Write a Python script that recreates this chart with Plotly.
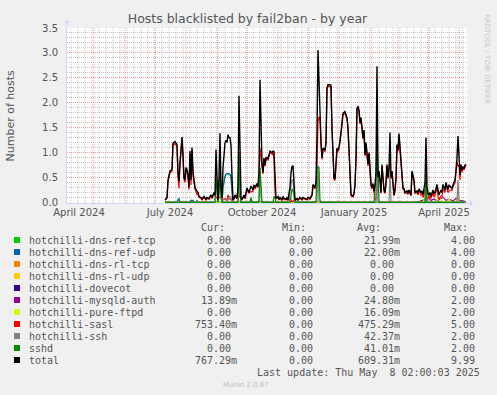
import plotly.graph_objects as go
import pandas as pd

# ---------------- data ----------------
main_dates = [
    "2024-07-11", "2024-07-13", "2024-07-14", "2024-07-16", "2024-07-18", "2024-07-19", "2024-07-21", "2024-07-23",
    "2024-07-24", "2024-07-25", "2024-07-26", "2024-07-28", "2024-07-29", "2024-07-30", "2024-07-31",
    "2024-08-01", "2024-08-02", "2024-08-03", "2024-08-04", "2024-08-05", "2024-08-06", "2024-08-07", "2024-08-08",
    "2024-08-09", "2024-08-10", "2024-08-12", "2024-08-13", "2024-08-14", "2024-08-16", "2024-08-17", "2024-08-19",
    "2024-08-21", "2024-08-22", "2024-08-24", "2024-08-26", "2024-08-27", "2024-08-29", "2024-08-30", "2024-08-31",
    "2024-09-01", "2024-09-02", "2024-09-03", "2024-09-04", "2024-09-05", "2024-09-06", "2024-09-07", "2024-09-08",
    "2024-09-09", "2024-09-10", "2024-09-11", "2024-09-12", "2024-09-13", "2024-09-14", "2024-09-15", "2024-09-16",
    "2024-09-17", "2024-09-18", "2024-09-19", "2024-09-21", "2024-09-22", "2024-09-23", "2024-09-24", "2024-09-25",
    "2024-09-26", "2024-09-28", "2024-09-29", "2024-09-30",
    "2024-10-01", "2024-10-03", "2024-10-04", "2024-10-05", "2024-10-07", "2024-10-08", "2024-10-09", "2024-10-11",
    "2024-10-12", "2024-10-13", "2024-10-14", "2024-10-15", "2024-10-16", "2024-10-17", "2024-10-18", "2024-10-19",
    "2024-10-20", "2024-10-22", "2024-10-23", "2024-10-24", "2024-10-26", "2024-10-27", "2024-10-28", "2024-10-29",
    "2024-10-30",
    "2024-11-01", "2024-11-02", "2024-11-03", "2024-11-05", "2024-11-06", "2024-11-07", "2024-11-09", "2024-11-10",
    "2024-11-11", "2024-11-13", "2024-11-14", "2024-11-15", "2024-11-16", "2024-11-17", "2024-11-18", "2024-11-20",
    "2024-11-21", "2024-11-23", "2024-11-25", "2024-11-26", "2024-11-28", "2024-11-30",
    "2024-12-01", "2024-12-03", "2024-12-05", "2024-12-06", "2024-12-08", "2024-12-09", "2024-12-10", "2024-12-11",
    "2024-12-12", "2024-12-13", "2024-12-14", "2024-12-15", "2024-12-16", "2024-12-18", "2024-12-19", "2024-12-20",
    "2024-12-21", "2024-12-23", "2024-12-24", "2024-12-25", "2024-12-26", "2024-12-27", "2024-12-28", "2024-12-29",
    "2024-12-30", "2024-12-31",
    "2025-01-01", "2025-01-03", "2025-01-04", "2025-01-05", "2025-01-07", "2025-01-08", "2025-01-09", "2025-01-10",
    "2025-01-11", "2025-01-12", "2025-01-13", "2025-01-15", "2025-01-16", "2025-01-17", "2025-01-18", "2025-01-19",
    "2025-01-20", "2025-01-21", "2025-01-22", "2025-01-23", "2025-01-24", "2025-01-25", "2025-01-26", "2025-01-27",
    "2025-01-28", "2025-01-29", "2025-01-30", "2025-01-31",
    "2025-02-01", "2025-02-02", "2025-02-03", "2025-02-04", "2025-02-05", "2025-02-06", "2025-02-07", "2025-02-08",
    "2025-02-09", "2025-02-10", "2025-02-11", "2025-02-12", "2025-02-13", "2025-02-14", "2025-02-15", "2025-02-16",
    "2025-02-17", "2025-02-18", "2025-02-19", "2025-02-20", "2025-02-21", "2025-02-22", "2025-02-23", "2025-02-24",
    "2025-02-25", "2025-02-26", "2025-02-27", "2025-02-28",
    "2025-03-01", "2025-03-02", "2025-03-03", "2025-03-04", "2025-03-05", "2025-03-06", "2025-03-07", "2025-03-08",
    "2025-03-10", "2025-03-11", "2025-03-12", "2025-03-14", "2025-03-15", "2025-03-16", "2025-03-17", "2025-03-18",
    "2025-03-20", "2025-03-21", "2025-03-22", "2025-03-24", "2025-03-25", "2025-03-26", "2025-03-27", "2025-03-28",
    "2025-03-29", "2025-03-30", "2025-03-31",
    "2025-04-01", "2025-04-02", "2025-04-03", "2025-04-05", "2025-04-06", "2025-04-07", "2025-04-09", "2025-04-10",
    "2025-04-11", "2025-04-13", "2025-04-14", "2025-04-15", "2025-04-17", "2025-04-18", "2025-04-19", "2025-04-20",
    "2025-04-21", "2025-04-23", "2025-04-24", "2025-04-25", "2025-04-27", "2025-04-28", "2025-04-29", "2025-04-30",
    "2025-05-01", "2025-05-02", "2025-05-03", "2025-05-04", "2025-05-05", "2025-05-06", "2025-05-07", "2025-05-08",
]

total = [
    0.05, 0.10, 0.45, 0.63, 0.66, 1.19, 1.22, 1.16,
    0.60, 0.42, 0.80, 1.31, 0.95, 0.50, 0.45,
    0.70, 0.66, 0.55, 0.30, 1.03, 0.45, 1.10, 0.62,
    0.45, 0.30, 0.22, 0.20, 0.12, 0.10, 0.07, 0.12,
    0.06, 0.10, 0.08, 0.15, 0.10, 0.20, 0.15, 1.06,
    0.50, 0.05, 0.50, 1.39, 0.30, 0.10, 0.70, 1.03,
    1.19, 1.25, 1.20, 1.36, 1.30, 1.30, 1.15, 0.50,
    0.05, 0.08, 0.15, 0.08, 0.30, 2.14, 0.60, 0.10,
    0.06, 0.15, 0.08, 0.20,
    0.29, 0.20, 0.25, 0.33, 0.25, 0.35, 0.30, 0.38,
    0.32, 0.60, 2.46, 1.20, 0.76, 0.60, 0.89, 0.75,
    0.90, 0.88, 0.95, 1.03, 1.00, 1.03, 1.02, 0.30,
    0.08,
    0.12, 0.06, 0.10, 0.05, 0.12, 0.08, 0.06, 0.10,
    0.05, 0.30, 0.60, 0.72, 0.73, 0.40, 0.05, 0.08,
    0.05, 0.10, 0.06, 0.10, 0.08, 0.06,
    0.10, 0.08, 0.15, 0.36, 0.30, 0.40, 1.40, 3.06,
    2.45, 1.75, 1.20, 0.89, 1.09, 1.05, 1.20, 2.30,
    2.36, 2.36, 2.35, 1.50, 0.89, 0.49, 0.47, 0.85,
    1.09, 1.05,
    1.10, 1.40, 1.65, 1.79, 1.82, 1.75, 1.70, 1.50,
    1.00, 0.40, 0.15, 0.13, 0.18, 0.35, 0.90, 1.89,
    1.93, 1.85, 1.60, 1.70, 1.45, 1.30, 1.45, 0.96,
    1.20, 0.95, 0.76, 1.00,
    0.63, 0.36, 0.30, 0.38, 0.22, 0.35, 0.60, 2.73,
    0.50, 0.63, 0.45, 0.20, 0.76, 0.55, 0.25, 0.20,
    0.40, 0.76, 0.50, 0.70, 1.40, 0.50, 0.63, 0.38,
    0.15, 0.25, 0.50, 1.16,
    1.05, 1.38, 1.10, 0.95, 0.60, 0.29, 0.28, 0.20,
    0.23, 0.18, 0.25, 0.15, 0.63, 0.50, 0.45, 0.20,
    0.23, 0.18, 0.27, 0.20, 0.22, 0.15, 0.25, 0.40,
    1.30, 0.30, 0.20,
    0.15, 0.20, 0.12, 0.25, 0.18, 0.20, 0.36, 0.25,
    0.15, 0.25, 0.20, 0.36, 0.25, 0.40, 0.30, 0.25,
    0.35, 0.30, 0.28, 0.35, 0.45, 0.65, 0.89, 1.33,
    0.85, 0.55, 0.76, 0.65, 0.72, 0.68, 0.75, 0.7673,
]

sasl = [
    0.04, 0.08, 0.42, 0.60, 0.62, 1.15, 1.18, 1.12,
    0.50, 0.28, 0.77, 1.27, 0.92, 0.46, 0.40,
    0.66, 0.62, 0.50, 0.26, 0.98, 0.35, 1.05, 0.52,
    0.42, 0.27, 0.16, 0.17, 0.10, 0.08, 0.05, 0.10,
    0.05, 0.08, 0.06, 0.13, 0.08, 0.18, 0.13, 0.10,
    0.10, 0.05, 0.10, 0.10, 0.10, 0.10, 0.05, 0.06,
    0.08, 0.06, 0.04, 0.15, 0.08, 0.06, 0.05, 0.05,
    0.04, 0.07, 0.13, 0.07, 0.28, 0.14, 0.10, 0.09,
    0.05, 0.13, 0.07, 0.18,
    0.26, 0.18, 0.22, 0.21, 0.22, 0.32, 0.27, 0.35,
    0.29, 0.55, 1.09, 0.90, 0.73, 0.57, 0.86, 0.72,
    0.87, 0.85, 0.92, 1.00, 0.97, 1.00, 0.88, 0.20,
    0.07,
    0.10, 0.05, 0.08, 0.04, 0.10, 0.06, 0.05, 0.08,
    0.04, 0.10, 0.05, 0.01, 0.02, 0.05, 0.04, 0.06,
    0.04, 0.08, 0.05, 0.08, 0.06, 0.05,
    0.08, 0.06, 0.13, 0.33, 0.27, 0.37, 0.65, 1.60,
    1.72, 1.68, 1.17, 0.86, 1.06, 1.02, 1.17, 2.27,
    2.33, 2.33, 2.32, 1.47, 0.86, 0.46, 0.44, 0.82,
    1.06, 1.02,
    1.07, 1.37, 1.62, 1.76, 1.79, 1.72, 1.67, 1.47,
    0.97, 0.37, 0.13, 0.11, 0.16, 0.32, 0.87, 1.86,
    1.90, 1.82, 1.57, 1.67, 1.42, 1.27, 1.42, 0.93,
    1.17, 0.92, 0.73, 0.97,
    0.60, 0.33, 0.27, 0.35, 0.20, 0.05, 0.05, 0.45,
    0.20, 0.60, 0.42, 0.18, 0.73, 0.52, 0.22, 0.18,
    0.37, 0.73, 0.47, 0.67, 0.80, 0.47, 0.60, 0.35,
    0.13, 0.22, 0.47, 1.13,
    1.02, 1.35, 1.07, 0.92, 0.57, 0.26, 0.25, 0.18,
    0.20, 0.16, 0.22, 0.13, 0.60, 0.47, 0.42, 0.18,
    0.20, 0.15, 0.23, 0.15, 0.17, 0.10, 0.15, 0.25,
    0.20, 0.22, 0.13,
    0.07, 0.14, 0.08, 0.19, 0.11, 0.14, 0.30, 0.12,
    0.06, 0.13, 0.12, 0.26, 0.20, 0.36, 0.25, 0.20,
    0.23, 0.25, 0.24, 0.32, 0.39, 0.57, 0.82, 0.72,
    0.75, 0.45, 0.71, 0.61, 0.69, 0.65, 0.72, 0.7534,
]

dns_ref_dates = [
    "2024-07-11", "2024-07-23", "2024-07-24", "2024-07-25", "2024-07-26", "2024-08-05", "2024-08-06", "2024-08-07",
    "2024-08-08", "2024-08-09", "2024-08-11", "2024-08-12", "2024-08-13", "2024-09-06", "2024-09-07", "2024-09-08",
    "2024-09-09", "2024-09-10", "2024-09-11", "2024-09-12", "2024-09-13", "2024-09-14", "2024-09-15", "2024-09-16",
    "2024-09-17", "2025-05-08",
]
dns_ref_tcp = [0, 0, 0.05, 0.07, 0, 0, 0.05, 0, 0.05, 0, 0, 0.03, 0, 0, 0.30, 0.45,
               0.52, 0.56, 0.57, 0.58, 0.57, 0.56, 0.50, 0.20, 0, 0]
dns_ref_udp = [0, 0, 0.05, 0.07, 0, 0, 0.05, 0, 0.05, 0, 0, 0.03, 0, 0, 0.30, 0.45,
               0.52, 0.56, 0.57, 0.58, 0.57, 0.56, 0.50, 0.20, 0, 0]

ssh_dates = [
    "2024-07-11", "2024-08-30", "2024-08-31", "2024-09-01", "2024-09-02", "2024-09-03", "2024-09-04", "2024-09-05",
    "2024-09-06", "2024-09-07", "2024-09-08", "2024-09-09", "2024-09-10", "2024-09-11", "2024-09-12", "2024-09-13",
    "2024-09-14", "2024-09-15", "2024-09-16", "2024-09-17", "2024-09-22", "2024-09-23", "2024-09-24", "2024-09-25",
    "2024-10-12", "2024-10-13", "2024-10-14", "2024-10-15", "2024-10-16", "2024-11-12", "2024-11-13", "2024-11-14",
    "2024-11-15", "2024-11-16", "2024-11-17", "2024-11-18", "2024-12-09", "2024-12-10", "2024-12-11", "2024-12-12",
    "2024-12-13", "2025-02-07", "2025-02-08", "2025-02-09", "2025-02-20", "2025-02-21", "2025-02-22", "2025-03-28",
    "2025-03-29", "2025-03-30", "2025-04-29", "2025-04-30", "2025-05-01", "2025-05-08",
]
ssh = [
    0, 0, 0.50, 0.20, 0, 0.20, 0.70, 0.10,
    0, 0.05, 0.07, 0.07, 0.07, 0.02, 0.05, 0.08,
    0.12, 0.10, 0.05, 0, 0, 1.00, 0.30, 0,
    0, 0.05, 0.67, 0.10, 0, 0, 0.20, 0.40,
    0.45, 0.45, 0.25, 0, 0, 0.05, 0.75, 0.03,
    0, 0, 1.04, 0, 0, 0.60, 0, 0,
    0.60, 0, 0, 0.45, 0, 0,
]

sshd_dates = [
    "2024-07-11", "2024-08-30", "2024-08-31", "2024-09-01", "2024-09-02", "2024-09-03", "2024-09-04", "2024-09-05",
    "2024-09-06", "2024-09-22", "2024-09-23", "2024-09-24", "2024-09-25", "2024-10-04", "2024-10-05", "2024-10-06",
    "2024-10-13", "2024-10-14", "2024-10-15", "2024-10-16", "2024-10-27", "2024-10-28", "2024-10-29", "2024-10-30",
    "2024-11-13", "2024-11-14", "2024-11-15", "2024-11-16", "2024-11-17", "2024-11-18", "2024-12-09", "2024-12-10",
    "2024-12-11", "2024-12-12", "2024-12-13", "2024-12-14", "2025-02-05", "2025-02-06", "2025-02-07", "2025-02-08",
    "2025-02-09", "2025-02-10", "2025-03-28", "2025-03-29", "2025-03-30", "2025-05-08",
]
sshd = [
    0, 0, 0.46, 0.20, 0, 0.20, 0.59, 0.10,
    0, 0, 1.00, 0.20, 0, 0, 0.10, 0,
    0, 0.70, 0.20, 0, 0, 0.12, 0.10, 0,
    0, 0.15, 0.26, 0.26, 0.10, 0, 0, 0.70,
    0.71, 0.70, 0.05, 0, 0, 0.30, 0.55, 1.24,
    0.30, 0, 0, 0.45, 0, 0,
]

mysqld_dates = [
    "2024-07-11", "2025-03-20", "2025-03-24", "2025-03-27", "2025-03-28", "2025-04-01", "2025-04-03", "2025-04-06",
    "2025-04-09", "2025-04-12", "2025-04-15", "2025-04-18", "2025-04-21", "2025-04-25", "2025-04-28", "2025-05-02",
    "2025-05-05", "2025-05-08",
]
mysqld_auth = [0, 0, 0.03, 0.05, 0.05, 0.08, 0.04, 0.07, 0.03, 0.06, 0.10, 0.04, 0.06, 0.03, 0.08, 0.04, 0.03, 0.0139]

ftpd_dates = [
    "2024-07-11", "2025-03-26", "2025-03-28", "2025-03-29", "2025-03-31", "2025-04-08", "2025-04-10", "2025-04-12",
    "2025-04-14", "2025-04-19", "2025-04-21", "2025-04-23", "2025-04-28", "2025-04-30", "2025-05-02", "2025-05-08",
]
pure_ftpd = [0, 0, 0.10, 0.05, 0, 0, 0.10, 0.08, 0.02, 0, 0.06, 0, 0, 0.10, 0, 0]

zero_dates = ["2024-07-11", "2025-05-08"]
zero_vals = [0, 0]

# legend table
names = ["hotchilli-dns-ref-tcp", "hotchilli-dns-ref-udp", "hotchilli-dns-rl-tcp", "hotchilli-dns-rl-udp",
         "hotchilli-dovecot", "hotchilli-mysqld-auth", "hotchilli-pure-ftpd", "hotchilli-sasl",
         "hotchilli-ssh", "sshd", "total"]
colors = ["#00CC00", "#0066B3", "#FF8000", "#FFCC00", "#330099", "#990099", "#CCFF00", "#FF0000",
          "#808080", "#008F00", "#000000"]
cur_vals = ["0.00", "0.00", "0.00", "0.00", "0.00", "13.89m", "0.00", "753.40m", "0.00", "0.00", "767.29m"]
min_vals = ["0.00"] * 11
avg_vals = ["21.99m", "22.00m", "0.00", "0.00", "0.00", "24.80m", "16.09m", "475.29m", "42.37m", "41.01m", "609.31m"]
max_vals = ["4.00", "4.00", "0.00", "0.00", "0.00", "2.00", "2.00", "5.00", "2.00", "2.00", "9.99"]

tick_dates = ["2024-04-16", "2024-07-16", "2024-10-16", "2025-01-16", "2025-04-16"]
tick_text = ["April 2024", "July 2024", "October 2024", "January 2025", "April 2025"]

# ---------------- figure ----------------
series = [
    (dns_ref_dates, dns_ref_tcp), (dns_ref_dates, dns_ref_udp), (zero_dates, zero_vals), (zero_dates, zero_vals),
    (zero_dates, zero_vals), (mysqld_dates, mysqld_auth), (ftpd_dates, pure_ftpd), (main_dates, sasl),
    (ssh_dates, ssh), (sshd_dates, sshd), (main_dates, total),
]

fig = go.Figure()
for (xs, ys), name, col in zip(series, names, colors):
    fig.add_trace(go.Scatter(x=xs, y=ys, name=name, mode="lines",
                             line=dict(color=col, width=1.4 if name == "total" else 1.2),
                             showlegend=False, hoverinfo="skip"))

W, H = 497, 395
L, R, T, B = 67, 467, 28, 203


def px(x):
    return (x - L) / (R - L)


def py(y):
    return (B - y) / (B - T)


TXT = "#555555"
shapes = []
# vertical grid: weekly minor (gray) and monthly major (red)
for d in pd.date_range("2024-04-08", "2025-05-08", freq="7D"):
    shapes.append(dict(type="line", xref="x", yref="paper", x0=d, x1=d, y0=0, y1=1, layer="below",
                       line=dict(color="rgba(143,143,143,0.5)", width=1, dash="1px,1px")))
for d in pd.date_range("2024-05-01", "2025-05-01", freq="MS"):
    shapes.append(dict(type="line", xref="x", yref="paper", x0=d, x1=d, y0=0, y1=1, layer="below",
                       line=dict(color="rgba(222,79,79,0.55)", width=1, dash="1px,1px")))

annotations = []
mono = dict(family="DejaVu Sans Mono", size=10, color=TXT)
row0, step = 240, 12
for i, (nm, col) in enumerate(zip(names, colors)):
    yc = row0 + step * i
    shapes.append(dict(type="rect", xref="paper", yref="paper", x0=px(14), x1=px(20), y0=py(yc + 3), y1=py(yc - 3),
                       fillcolor=col, line=dict(width=0)))
    annotations.append(dict(x=px(27), y=py(yc), xref="paper", yref="paper", text=nm, showarrow=False,
                            xanchor="left", yanchor="middle", font=mono))
    for vals, xr in ((cur_vals, 239), (min_vals, 321), (avg_vals, 402), (max_vals, 483)):
        v = vals[i]
        if not v.endswith("m"):
            v = v + "\u00a0"
        annotations.append(dict(x=px(xr), y=py(yc), xref="paper", yref="paper", text=v, showarrow=False,
                                xanchor="right", yanchor="middle", font=mono))
for hdr, xr in (("Cur:", 227), ("Min:", 308), ("Avg:", 383), ("Max:", 470)):
    annotations.append(dict(x=px(xr), y=py(227), xref="paper", yref="paper", text=hdr, showarrow=False,
                            xanchor="right", yanchor="middle", font=mono))
annotations.append(dict(x=px(482), y=py(372.5), xref="paper", yref="paper",
                        text="Last update: Thu May \u00a08 02:00:03 2025", showarrow=False,
                        xanchor="right", yanchor="middle", font=mono))
annotations.append(dict(x=px(245.5), y=py(385), xref="paper", yref="paper", text="Munin 2.0.67", showarrow=False,
                        xanchor="center", yanchor="middle",
                        font=dict(family="DejaVu Sans", size=7, color="#C0C0C0")))
annotations.append(dict(x=px(487), y=py(59), xref="paper", yref="paper", text="RRDTOOL / TOBI OETIKER",
                        showarrow=False, textangle=90, xanchor="center", yanchor="middle",
                        font=dict(family="DejaVu Sans", size=7, color="#C8C8C8")))
annotations.append(dict(x=px(10), y=py(115.5), xref="paper", yref="paper", text="Number of hosts",
                        showarrow=False, textangle=-90, xanchor="center", yanchor="middle",
                        font=dict(family="DejaVu Sans", size=11, color=TXT)))
# axis arrows
annotations.append(dict(x=px(67), y=py(20), xref="paper", yref="paper", text="", showarrow=True,
                        ax=0, ay=10, arrowhead=1, arrowsize=1, arrowwidth=1, arrowcolor="#CFD6F8"))
annotations.append(dict(x=px(473), y=py(203), xref="paper", yref="paper", text="", showarrow=True,
                        ax=-10, ay=0, arrowhead=1, arrowsize=1, arrowwidth=1, arrowcolor="#CFD6F8"))

fig.update_layout(
    width=W, height=H,
    margin=dict(l=L, r=W - R, t=T, b=H - B, pad=0),
    paper_bgcolor="#F0F0F0", plot_bgcolor="#FFFFFF",
    showlegend=False,
    font=dict(family="DejaVu Sans", size=10, color=TXT),
    title=dict(text="Hosts blacklisted by fail2ban - by year", x=247.5 / W, xanchor="center",
               y=1 - 19 / H, yanchor="middle", yref="container",
               font=dict(family="DejaVu Sans", size=12.5, color=TXT)),
    shapes=shapes, annotations=annotations,
)
fig.update_xaxes(type="date", range=["2024-04-04", "2025-05-09"], tickmode="array",
                 tickvals=tick_dates, ticktext=tick_text, showgrid=False, zeroline=False,
                 showline=True, linecolor="#CFD6F8", linewidth=1, ticks="", layer="below traces",
                 tickfont=dict(family="DejaVu Sans", size=10, color=TXT), fixedrange=True)
fig.update_yaxes(range=[-0.012, 3.5], tickmode="linear", tick0=0, dtick=0.5, tickformat=".1f",
                 showgrid=True, gridcolor="rgba(222,79,79,0.55)", griddash="1px,1px", gridwidth=1,
                 minor=dict(tickmode="linear", tick0=0, dtick=0.1, showgrid=True,
                            gridcolor="rgba(143,143,143,0.5)", griddash="1px,1px", gridwidth=1),
                 zeroline=False, showline=True, linecolor="#CFD6F8", linewidth=1, ticks="",
                 layer="below traces", ticklabelstandoff=6,
                 tickfont=dict(family="DejaVu Sans", size=10, color=TXT), fixedrange=True)

fig.write_html("out.html", config={"displayModeBar": False},
               post_script="document.body.style.margin='0px';document.body.style.background='#F0F0F0';")
